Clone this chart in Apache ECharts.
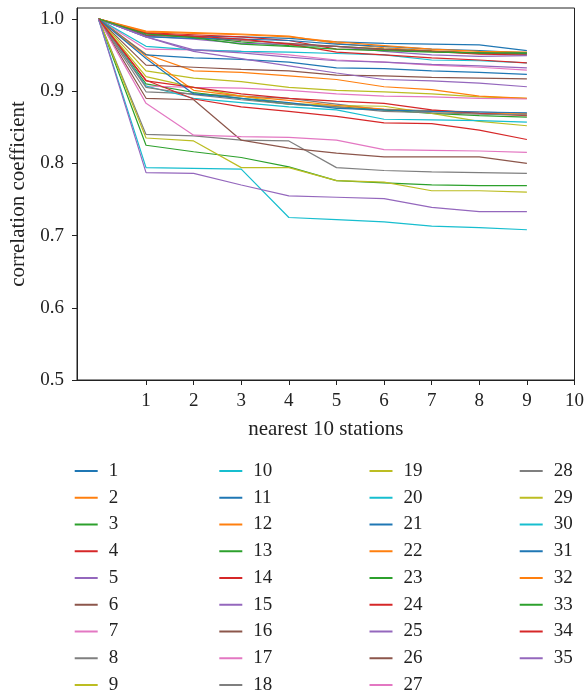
<!DOCTYPE html>
<html>
<head>
<meta charset="utf-8">
<script src="https://cdn.jsdelivr.net/npm/echarts@6/dist/echarts.min.js"></script>
<style>html,body{margin:0;padding:0;background:#fff}#c{width:587px;height:695px}</style>
</head>
<body>
<div id="c"></div>
<script>
const xValues = [0, 1, 2, 3, 4, 5, 6, 7, 8, 9];
const xTicks = [1, 2, 3, 4, 5, 6, 7, 8, 9, 10];
const yTicks = [0.5, 0.6, 0.7, 0.8, 0.9, 1.0];

const s1 = [1, 0.978, 0.976, 0.975, 0.973, 0.968, 0.966, 0.965, 0.964, 0.956];
const s2 = [1, 0.983, 0.981, 0.979, 0.976, 0.966, 0.960, 0.956, 0.953, 0.953];
const s3 = [1, 0.980, 0.975, 0.968, 0.963, 0.962, 0.958, 0.955, 0.952, 0.952];
const s4 = [1, 0.981, 0.978, 0.975, 0.970, 0.958, 0.957, 0.955, 0.951, 0.950];
const s5 = [1, 0.976, 0.972, 0.966, 0.965, 0.962, 0.955, 0.950, 0.948, 0.949];
const s6 = [1, 0.977, 0.975, 0.970, 0.966, 0.962, 0.958, 0.955, 0.953, 0.951];
const s7 = [1, 0.958, 0.957, 0.955, 0.950, 0.943, 0.940, 0.936, 0.933, 0.929];
const s8 = [1, 0.899, 0.896, 0.893, 0.890, 0.882, 0.874, 0.873, 0.871, 0.869];
const s9 = [1, 0.928, 0.918, 0.913, 0.905, 0.901, 0.899, 0.896, 0.892, 0.890];
const s10 = [1, 0.962, 0.957, 0.955, 0.954, 0.952, 0.950, 0.943, 0.942, 0.939];
const s11 = [1, 0.975, 0.973, 0.972, 0.970, 0.965, 0.962, 0.958, 0.956, 0.953];
const s12 = [1, 0.951, 0.928, 0.926, 0.921, 0.916, 0.906, 0.902, 0.893, 0.890];
const s13 = [1, 0.910, 0.898, 0.890, 0.882, 0.878, 0.874, 0.869, 0.866, 0.864];
const s14 = [1, 0.980, 0.976, 0.972, 0.965, 0.954, 0.950, 0.946, 0.943, 0.939];
const s15 = [1, 0.975, 0.957, 0.953, 0.947, 0.942, 0.940, 0.937, 0.935, 0.932];
const s16 = [1, 0.936, 0.933, 0.930, 0.928, 0.922, 0.921, 0.919, 0.918, 0.917];
const s17 = [1, 0.907, 0.905, 0.904, 0.901, 0.896, 0.893, 0.892, 0.890, 0.889];
const s18 = [1, 0.840, 0.838, 0.832, 0.831, 0.794, 0.790, 0.788, 0.787, 0.786];
const s19 = [1, 0.920, 0.905, 0.893, 0.883, 0.880, 0.879, 0.869, 0.858, 0.852];
const s20 = [1, 0.907, 0.890, 0.884, 0.878, 0.874, 0.861, 0.860, 0.859, 0.857];
const s21 = [1, 0.950, 0.946, 0.944, 0.940, 0.932, 0.931, 0.928, 0.926, 0.923];
const s22 = [1, 0.948, 0.901, 0.893, 0.887, 0.880, 0.875, 0.872, 0.869, 0.868];
const s23 = [1, 0.825, 0.816, 0.808, 0.795, 0.776, 0.773, 0.770, 0.769, 0.769];
const s24 = [1, 0.914, 0.905, 0.896, 0.890, 0.886, 0.883, 0.874, 0.869, 0.866];
const s25 = [1, 0.975, 0.955, 0.945, 0.935, 0.925, 0.916, 0.914, 0.911, 0.906];
const s26 = [1, 0.890, 0.888, 0.832, 0.821, 0.814, 0.809, 0.809, 0.809, 0.800];
const s27 = [1, 0.883, 0.839, 0.837, 0.836, 0.832, 0.819, 0.818, 0.817, 0.815];
const s28 = [1, 0.905, 0.895, 0.888, 0.882, 0.878, 0.872, 0.870, 0.868, 0.867];
const s29 = [1, 0.835, 0.831, 0.794, 0.794, 0.776, 0.774, 0.762, 0.762, 0.760];
const s30 = [1, 0.794, 0.793, 0.792, 0.725, 0.722, 0.719, 0.713, 0.711, 0.708];
const s31 = [1, 0.945, 0.896, 0.890, 0.884, 0.876, 0.874, 0.872, 0.871, 0.870];
const s32 = [1, 0.982, 0.980, 0.978, 0.975, 0.968, 0.963, 0.958, 0.955, 0.954];
const s33 = [1, 0.979, 0.974, 0.965, 0.962, 0.958, 0.956, 0.954, 0.953, 0.953];
const s34 = [1, 0.915, 0.889, 0.878, 0.872, 0.865, 0.856, 0.855, 0.846, 0.833];
const s35 = [1, 0.787, 0.786, 0.770, 0.755, 0.753, 0.751, 0.739, 0.733, 0.733];

const stationValues = [s1,s2,s3,s4,s5,s6,s7,s8,s9,s10,s11,s12,s13,s14,s15,s16,s17,s18,s19,s20,
  s21,s22,s23,s24,s25,s26,s27,s28,s29,s30,s31,s32,s33,s34,s35];
const seriesNames = stationValues.map((_, i) => String(i + 1));
const palette = ['#1f77b4','#ff7f0e','#2ca02c','#d62728','#9467bd','#8c564b','#e377c2','#7f7f7f','#bcbd22','#17becf'];

const FONT = '"Liberation Serif", "DejaVu Serif", serif';
const chart = echarts.init(document.getElementById('c'), null, {renderer: 'canvas'});

const series = stationValues.map((vals, i) => ({
  name: seriesNames[i],
  type: 'line',
  data: vals.map((v, k) => [xValues[k], v]),
  symbol: 'none',
  showSymbol: false,
  smooth: false,
  lineStyle: {width: 1.2, color: palette[i % 10]},
  itemStyle: {color: palette[i % 10]},
  emphasis: {disabled: true},
  animation: false
}));

const colLefts = [74.7, 219.3, 369.5, 519.7];
const groups = [seriesNames.slice(0, 9), seriesNames.slice(9, 18), seriesNames.slice(18, 27), seriesNames.slice(27, 35)];
const legends = groups.map((g, ci) => ({
  data: g,
  orient: 'vertical',
  left: colLefts[ci],
  top: 461.5,
  icon: 'rect',
  itemWidth: 23,
  itemHeight: 2,
  itemGap: 7.75,
  padding: 0,
  selectedMode: false,
  textStyle: {fontFamily: FONT, fontSize: 19, color: '#222', padding: [0, 0, 0, 6]}
}));

chart.setOption({
  animation: false,
  color: palette,
  grid: {left: 74, right: 11, top: 8, bottom: 315, show: true, borderColor: '#222', borderWidth: 1, containLabel: false},
  xAxis: {
    type: 'value', min: -0.45, max: 10,
    name: 'nearest 10 stations', nameLocation: 'middle', nameGap: 39,
    nameTextStyle: {fontFamily: FONT, fontSize: 21, color: '#222'},
    axisLine: {show: true, onZero: false, lineStyle: {color: '#222', width: 1}},
    axisTick: {show: true, length: 5, customValues: xTicks, lineStyle: {color: '#222'}},
    axisLabel: {customValues: xTicks, margin: 12, fontFamily: FONT, fontSize: 19, color: '#222'},
    splitLine: {show: false}
  },
  yAxis: {
    type: 'value', min: 0.5, max: 1.015,
    name: 'correlation coefficient', nameLocation: 'middle', nameGap: 48,
    nameTextStyle: {fontFamily: FONT, fontSize: 21, color: '#222'},
    axisLine: {show: true, onZero: false, lineStyle: {color: '#222', width: 1}},
    axisTick: {show: true, length: 5, customValues: yTicks, lineStyle: {color: '#222'}},
    axisLabel: {customValues: yTicks, margin: 13, fontFamily: FONT, fontSize: 19, color: '#222',
      formatter: v => v.toFixed(1)},
    splitLine: {show: false}
  },
  legend: legends,
  series: series
});
</script>
</body>
</html>
